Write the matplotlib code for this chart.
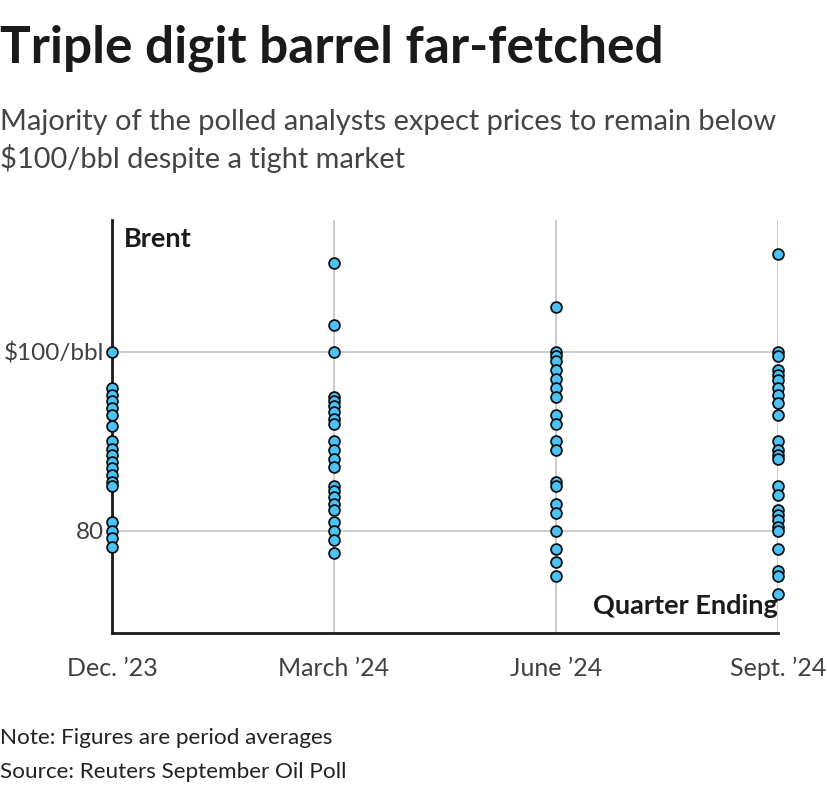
import matplotlib
matplotlib.use("Agg")
from matplotlib import pyplot as plt

# Reuters oil poll: Brent forecasts by quarter ending
quarters = ["Dec. \u201923", "March \u201924", "June \u201924", "Sept. \u201924"]
dec_23 = [100, 96, 95.2, 94.5, 93.7, 93, 91.7, 90, 89.2, 88.5, 87.7, 87, 86.3,
          85.5, 85, 81, 80, 79.2, 78.2]
mar_24 = [110, 103, 100, 95, 94.5, 94, 93.3, 92.5, 92, 90, 89, 88, 87.2, 85,
          84.5, 83.8, 83, 82.3, 81, 80, 79, 77.5]
jun_24 = [105, 100, 99.5, 99, 98, 97, 96, 95, 93, 92, 90, 89, 85.5, 85, 83, 82,
          80, 78, 76.5, 75]
sep_24 = [111, 100, 99.5, 98, 97.4, 96.9, 96, 95.2, 94.3, 93, 90, 89, 88.5, 88,
          85, 84, 82.3, 81.8, 81.2, 80.5, 80, 78, 75.5, 75, 73]
series = [dec_23, mar_24, jun_24, sep_24]
ytick_vals = [80, 100]
ytick_labels = ["80", "$100/bbl"]

plt.rcParams["font.family"] = ["Lato", "DejaVu Sans"]

fig = plt.figure(figsize=(8.28, 7.92), dpi=100)
ax = fig.add_axes([112 / 828, 1 - 633 / 792, 666 / 828, 413 / 792])

for i, vals in enumerate(series):
    ax.plot([i] * len(vals), vals, "o", ms=7.8, mfc="#4BC3F6", mec="#111111",
            mew=1.3, clip_on=False, zorder=4)

ax.set_xlim(0, 3)
ax.set_ylim(68.6, 114.75)
ax.set_xticks(range(len(quarters)))
ax.set_xticklabels(quarters, fontsize=18, color="#404040")
ax.set_yticks(ytick_vals)
ax.set_yticklabels(ytick_labels, fontsize=17.5, color="#404040")
ax.tick_params(length=0, pad=6)
ax.tick_params(axis="x", pad=17)

ax.grid(True, color="#c8c8c8", lw=1.3)
ax.set_axisbelow(True)
for s in ["top", "right"]:
    ax.spines[s].set_visible(False)
for s in ["left", "bottom"]:
    ax.spines[s].set_color("#1a1a1a")
    ax.spines[s].set_linewidth(2)
    ax.spines[s].set_zorder(3)

ax.text(0.018, 0.955, "Brent", transform=ax.transAxes, fontsize=19.5,
        fontweight="bold", color="#1a1a1a", va="center", ha="left")
ax.text(1.0, 0.065, "Quarter Ending", transform=ax.transAxes, fontsize=19.5,
        fontweight="bold", color="#1a1a1a", va="center", ha="right", zorder=6)

fig.text(0.0, 1 - 48 / 792, "Triple digit barrel far-fetched", fontsize=37,
         fontweight="bold", color="#1a1a1a", va="center", ha="left")
fig.text(0.0, 1 - 141 / 792,
         "Majority of the polled analysts expect prices to remain below\n$100/bbl despite a tight market",
         fontsize=20.9, color="#444444", va="center", ha="left",
         linespacing=1.4)
fig.text(0.0, 1 - 738 / 792, "Note: Figures are period averages", fontsize=16.2,
         color="#222222", va="center", ha="left")
fig.text(0.0, 1 - 772 / 792, "Source: Reuters September Oil Poll", fontsize=16.2,
         color="#222222", va="center", ha="left")

fig.savefig("out.png", dpi=100, facecolor="white")
